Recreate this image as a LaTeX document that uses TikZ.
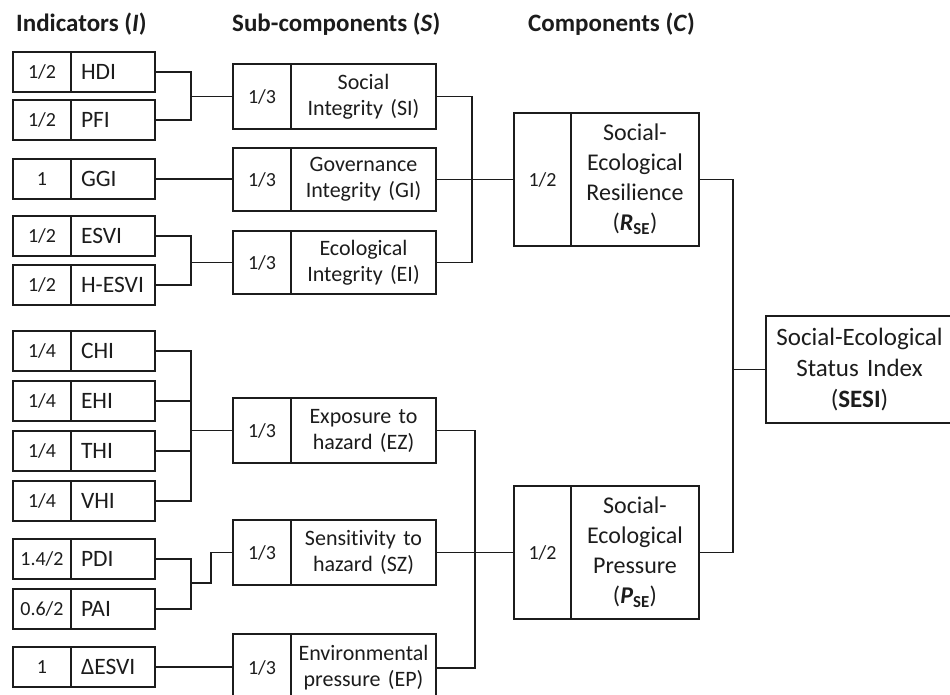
\documentclass[tikz,border=0pt]{standalone}
\usepackage{fontspec}
\setmainfont{Carlito}[Ligatures=NoCommon]
\definecolor{ink}{HTML}{1C1C1C}

% indicator box: name, top, weight, label
\newcommand\indbox[4]{%
  \node[box, wfont, minimum width=58pt, minimum height=40pt] (#1w) at (12,#2) {#3};
  \node[box, ifont, minimum height=40pt, text width=64pt, inner xsep=10pt, align=left] (#1) at (70,#2) {#4};
}
% sub-component box: name, top, height, label
\newcommand\subbox[4]{%
  \node[box, wfont, minimum width=58pt, minimum height=#3pt] (#1w) at (232,#2) {1/3};
  \node[box, sfont, minimum height=#3pt, text width=145pt, align=center] (#1) at (290,#2) {#4};
}
% component box: name, top, height, label
\newcommand\compbox[4]{%
  \node[box, wfont, minimum width=57pt, minimum height=#3pt] (#1w) at (513,#2) {1/2};
  \node[box, cfont, minimum height=#3pt, text width=128pt, align=center] (#1) at (570,#2) {#4};
}

\begin{document}
\begin{tikzpicture}[x=1pt, y=-1pt,
  box/.style={draw=ink, line width=2pt, inner sep=0pt, anchor=north west, text=ink},
  wfont/.style={font=\fontsize{20}{24}\selectfont},
  ifont/.style={font=\fontsize{23.5}{26}\selectfont},
  sfont/.style={font=\fontsize{22}{26}\selectfont},
  cfont/.style={font=\fontsize{24}{30}\selectfont},
  head/.style={anchor=west, inner sep=0pt, text=ink, font=\fontsize{25}{28}\selectfont\bfseries},
  wire/.style={draw=ink, line width=1.8pt}]
\useasboundingbox (0,0) rectangle (950,695);
\clip (0,0) rectangle (950,695);

% column headings
\node[head] (hI) at (16,24) {Indicators (\textit{I})};
\node[head] (hS) at (232,24) {Sub-components (\textit{S})};
\node[head] (hC) at (528,24) {Components (\textit{C})};

% indicators
\indbox{hdi}{51}{1/2}{HDI}
\indbox{pfi}{99}{1/2}{PFI}
\indbox{ggi}{158}{1}{GGI}
\indbox{esvi}{215}{1/2}{ESVI}
\indbox{hesvi}{264}{1/2}{H-ESVI}
\indbox{chi}{330}{1/4}{CHI}
\indbox{ehi}{380}{1/4}{EHI}
\indbox{thi}{430}{1/4}{THI}
\indbox{vhi}{480}{1/4}{VHI}
\indbox{pdi}{538}{1.4/2}{PDI}
\indbox{pai}{588}{0.6/2}{PAI}
\indbox{desvi}{646}{1}{ΔESVI}

% sub-components
\subbox{si}{63}{65}{Social\\Integrity (SI)}
\subbox{gi}{147}{63}{Governance\\Integrity (GI)}
\subbox{ei}{230}{63}{Ecological\\Integrity (EI)}
\subbox{ez}{397}{65}{Exposure to\\hazard (EZ)}
\subbox{sz}{519}{65}{Sensitivity to\\hazard (SZ)}
\subbox{ep}{633}{68}{Environmental\\pressure (EP)}

% components
\compbox{r}{112}{133}{Social-\\Ecological\\Resilience\\(\textbf{\textit{R}}\textsubscript{\textbf{SE}})}
\compbox{p}{485}{133}{Social-\\Ecological\\Pressure\\(\textbf{\textit{P}}\textsubscript{\textbf{SE}})}

% overall index
\node[box, minimum width=187pt, minimum height=107pt, text width=187pt, align=center,
  font=\fontsize{25}{31}\selectfont] (sesi) at (765,315)
  {Social-Ecological\\Status Index\\(\textbf{SESI})};

% junction columns
\coordinate (colA) at (191,0);
\coordinate (colB) at (211,0);
\coordinate (colC) at (472,0);
\coordinate (colD) at (475,0);
\coordinate (colE) at (733,0);
\coordinate (jP) at (191,583);

% indicators to sub-components
\draw[wire] (hdi.east) -| (siw.west -| colA) |- (pfi.east);
\draw[wire] (siw.west -| colA) -- (siw.west);
\draw[wire] (ggi.east) -- (ggi.east -| giw.west);
\draw[wire] (esvi.east) -| (eiw.west -| colA) |- (hesvi.east);
\draw[wire] (eiw.west -| colA) -- (eiw.west);
\draw[wire] (chi.east) -| (ezw.west -| colA) |- (vhi.east);
\draw[wire] (ehi.east) -- (ehi.east -| colA);
\draw[wire] (thi.east) -- (thi.east -| colA);
\draw[wire] (ezw.west -| colA) -- (ezw.west);
\draw[wire] (pdi.east) -| (jP) |- (pai.east);
\draw[wire] (jP) -| (szw.west -| colB) -- (szw.west);
\draw[wire] (desvi.east) -- (desvi.east -| epw.west);

% sub-components to components
\draw[wire] (si.east) -| (colC |- ei.east) -- (ei.east);
\draw[wire] (gi.east) -- (gi.east -| rw.west);
\draw[wire] (ez.east) -| (colD |- ep.east) -- (ep.east);
\draw[wire] (sz.east) -- (sz.east -| pw.west);

% components to index
\draw[wire] (r.east) -| (colE |- p.east) -- (p.east);
\draw[wire] (colE |- sesi.west) -- (sesi.west);
\end{tikzpicture}
\end{document}
